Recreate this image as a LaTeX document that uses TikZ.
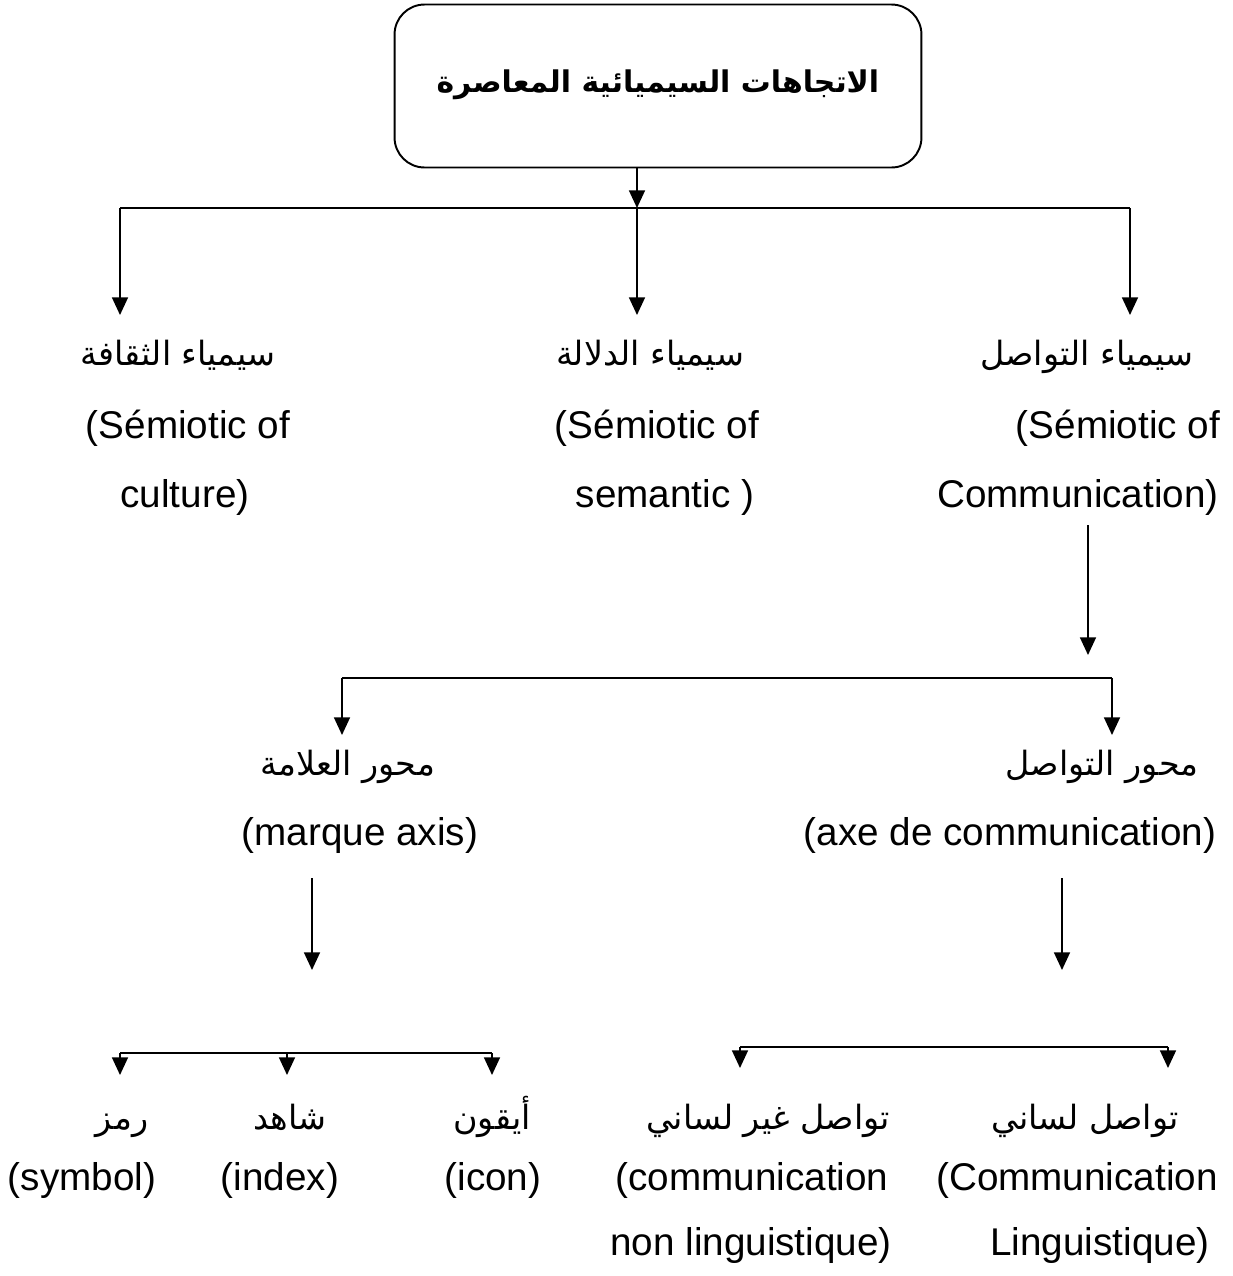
\documentclass[tikz,border=0pt]{standalone}
\usepackage{fontspec}
\setmainfont{Liberation Sans}
\newfontfamily\arabicfont[Script=Arabic]{DejaVu Sans}
\TeXXeTstate=1
\usetikzlibrary{arrows.meta}
\tikzset{
  lat/.style={font=\fontsize{22}{26}\selectfont, inner sep=0pt},
  arab/.style={font=\arabicfont\fontsize{19}{23}\selectfont, inner sep=0pt, text height=14pt, text depth=6pt},
  arr/.style={-{Triangle[length=10pt,width=9pt]}, line width=1.1pt},
  bar/.style={line width=1.1pt},
  titlebox/.style={draw, rounded corners=0.6cm, line width=1.1pt, minimum width=10.54cm, minimum height=3.26cm, font=\arabicfont\bfseries\fontsize{17}{21}\selectfont}
}
\begin{document}
\begin{tikzpicture}[x=0.02cm,y=-0.02cm]
 \useasboundingbox (0,0) rectangle (1232,1276);
 \node[titlebox] (title) at (658,86) {\raisebox{6pt}{\beginR الاتجاهات السيميائية المعاصرة\endR}};
 \coordinate (hub) at (637,208);
 \coordinate (bl) at (120,208);
 \coordinate (br) at (1130,208);
 \coordinate (t1) at (120,315);
 \coordinate (t2) at (637,315);
 \coordinate (t3) at (1130,315);
 \draw[arr] (title.south -| hub) -- (hub);
 \draw[bar] (bl) -- (br);
 \draw[arr] (bl) -- (t1);
 \draw[arr] (hub) -- (t2);
 \draw[arr] (br) -- (t3);
 \node[arab] (cult-ar) at (178,358) {\beginR سيمياء الثقافة\endR};
 \node[lat] (cult-l1) at (188,428) {(Sémiotic of};
 \node[lat] (cult-l2) at (185,497) {culture)};
 \node[arab] (sem-ar) at (650,358) {\beginR سيمياء الدلالة\endR};
 \node[lat] (sem-l1) at (657,428) {(Sémiotic of};
 \node[lat] (sem-l2) at (665,497) {semantic )};
 \node[arab] (comm-ar) at (1087,358) {\beginR سيمياء التواصل\endR};
 \node[lat] (comm-l1) at (1118,428) {(Sémiotic of};
 \node[lat] (comm-l2) at (1078,497) {Communication)};
 \coordinate (c2) at (1088,655);
 \draw[arr] (comm-l2.south -| c2) ++(0,10) -- (c2);
 \coordinate (ml) at (342,678);
 \coordinate (mr) at (1112,678);
 \coordinate (m1) at (342,735);
 \coordinate (m2) at (1112,735);
 \draw[bar] (ml) -- (mr);
 \draw[arr] (ml) -- (m1);
 \draw[arr] (mr) -- (m2);
 \node[arab] (marq-ar) at (348,768) {\beginR محور العلامة\endR};
 \node[lat] (marq-l1) at (360,835) {(marque axis)};
 \node[arab] (axe-ar) at (1102,768) {\beginR محور التواصل\endR};
 \node[lat] (axe-l1) at (1010,835) {(axe de communication)};
 \coordinate (d1) at (312,970);
 \coordinate (d2) at (1062,970);
 \draw[arr] (marq-l1.south -| d1) ++(0,25) -- (d1);
 \draw[arr] (axe-l1.south -| d2) ++(0,25) -- (d2);
 \coordinate (ll) at (120,1053);
 \coordinate (lm) at (287,1053);
 \coordinate (lr) at (492,1053);
 \coordinate (rl) at (740,1047);
 \coordinate (rr) at (1168,1047);
 \coordinate (e1) at (120,1075);
 \coordinate (e2) at (287,1075);
 \coordinate (e3) at (492,1075);
 \coordinate (e4) at (740,1068);
 \coordinate (e5) at (1168,1068);
 \draw[bar] (ll) -- (lr);
 \draw[bar] (rl) -- (rr);
 \draw[arr] (ll) -- (e1);
 \draw[arr] (lm) -- (e2);
 \draw[arr] (lr) -- (e3);
 \draw[arr] (rl) -- (e4);
 \draw[arr] (rr) -- (e5);
 \node[arab] (sym-ar) at (122,1122) {\beginR رمز\endR};
 \node[lat] (sym-l1) at (82,1180) {(symbol)};
 \node[arab] (idx-ar) at (290,1122) {\beginR شاهد\endR};
 \node[lat] (idx-l1) at (280,1180) {(index)};
 \node[arab] (icon-ar) at (492,1122) {\beginR أيقون\endR};
 \node[lat] (icon-l1) at (493,1180) {(icon)};
 \node[arab] (nonl-ar) at (768,1122) {\beginR تواصل غير لساني\endR};
 \node[lat] (nonl-l1) at (752,1180) {(communication};
 \node[lat] (nonl-l2) at (751,1245) {non linguistique)};
 \node[arab] (ling-ar) at (1085,1122) {\beginR تواصل لساني\endR};
 \node[lat] (ling-l1) at (1077,1180) {(Communication};
 \node[lat] (ling-l2) at (1100,1245) {Linguistique)};
\end{tikzpicture}
\end{document}
